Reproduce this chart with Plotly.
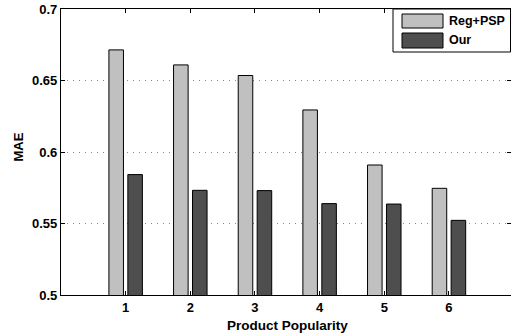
import plotly.graph_objects as go

categories = [1, 2, 3, 4, 5, 6]
reg_psp = [0.6714, 0.6609, 0.6535, 0.6294, 0.5909, 0.5746]
ours = [0.5842, 0.5732, 0.5730, 0.5639, 0.5636, 0.5522]
series_names = ["Reg+PSP", "Our"]
y_ticks = [0.5, 0.55, 0.6, 0.65, 0.7]
y_tick_labels = ["0.5", "0.55", "0.6", "0.65", "0.7"]

FONT = "Liberation Sans, Arial, Helvetica, sans-serif"
C1 = "#c0c0c0"
C2 = "#4e4e4e"
W = 0.225

fig = go.Figure()
fig.add_trace(go.Bar(x=categories, y=reg_psp, name=series_names[0], width=W, offset=-W - 0.034,
                     marker=dict(color=C1, line=dict(color="black", width=1))))
fig.add_trace(go.Bar(x=categories, y=ours, name=series_names[1], width=W, offset=0.034,
                     marker=dict(color=C2, line=dict(color="black", width=1))))

fig.update_layout(
    width=511, height=335,
    margin=dict(l=61, r=0, t=9, b=40, pad=0),
    barmode="overlay",
    showlegend=False,
    plot_bgcolor="white", paper_bgcolor="white",
    font=dict(family=FONT, size=13, color="black"),
)
fig.update_xaxes(range=[0, 6.96], tickvals=categories, ticktext=[str(c) for c in categories],
                 ticks="inside", ticklen=4, tickcolor="black", showline=True, linecolor="black",
                 linewidth=1.2, mirror="ticks", showgrid=False, zeroline=False,
                 tickfont=dict(family=FONT, size=13, weight="bold"))
fig.update_yaxes(range=[0.5, 0.7], tickvals=y_ticks, ticktext=y_tick_labels,
                 ticks="inside", ticklen=4, tickcolor="black", showline=True, linecolor="black",
                 linewidth=1.2, mirror="ticks", showgrid=True, gridcolor="#8a8a8a", gridwidth=1,
                 griddash="1px,5px", zeroline=False,
                 tickfont=dict(family=FONT, size=13, weight="bold"))

def px(xp):
    return (xp - 61) / 450

def py(yp):
    return (295 - yp) / 286

shapes = [
    dict(type="rect", xref="paper", yref="paper", x0=px(393), x1=px(510.5), y0=py(52), y1=py(9),
         fillcolor="white", line=dict(color="black", width=1)),
    dict(type="rect", xref="paper", yref="paper", x0=px(402), x1=px(443), y0=py(28), y1=py(14),
         fillcolor=C1, line=dict(color="black", width=1)),
    dict(type="rect", xref="paper", yref="paper", x0=px(402), x1=px(443), y0=py(48), y1=py(33),
         fillcolor=C2, line=dict(color="black", width=1)),
]
fig.update_layout(shapes=shapes)

ann = [
    dict(text="<b>" + series_names[0] + "</b>", x=px(447), y=py(21), xref="paper", yref="paper",
         xanchor="left", yanchor="middle", showarrow=False, font=dict(size=12.5)),
    dict(text="<b>" + series_names[1] + "</b>", x=px(447), y=py(40.5), xref="paper", yref="paper",
         xanchor="left", yanchor="middle", showarrow=False, font=dict(size=12.5)),
    dict(text="<b>MAE</b>", x=px(17.5), y=py(147), xref="paper", yref="paper", textangle=-90,
         xanchor="center", yanchor="middle", showarrow=False, font=dict(size=13)),
    dict(text="<b>Product Popularity</b>", x=px(287.5), y=py(325), xref="paper", yref="paper",
         xanchor="center", yanchor="middle", showarrow=False, font=dict(size=13.5)),
]
fig.update_layout(annotations=ann)

post = (
    "document.documentElement.style.margin='0';"
    "document.documentElement.style.overflow='hidden';"
    "document.body.style.margin='0';"
    "document.body.style.overflow='hidden';"
)
fig.write_html("out.html", config={"displayModeBar": False}, post_script=post)
